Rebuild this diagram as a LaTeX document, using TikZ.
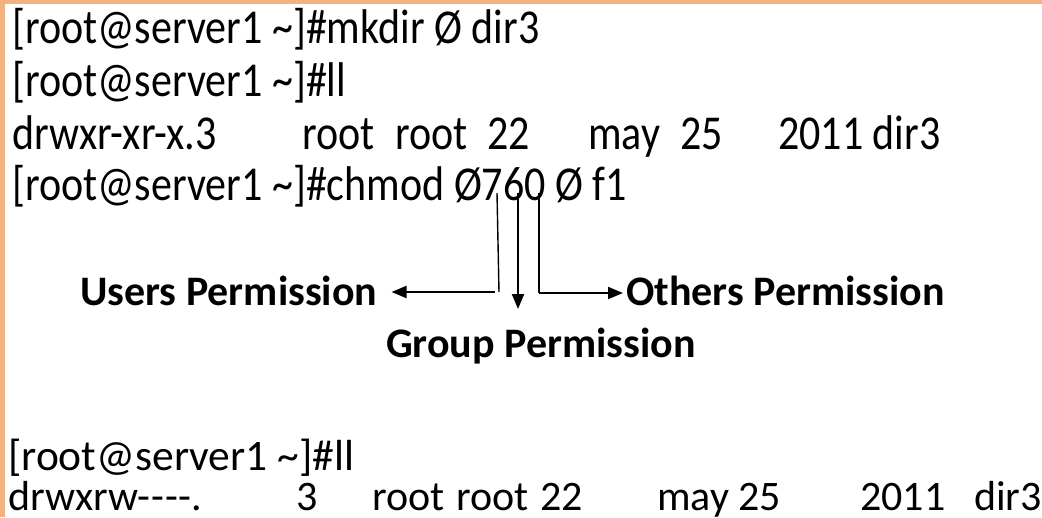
\documentclass[tikz,border=0pt]{standalone}
\usepackage{fontspec}
\setmainfont{Carlito}
\usetikzlibrary{arrows.meta}
\definecolor{frameorange}{RGB}{244,177,131}
\newcommand{\tall}[1]{\scalebox{1}[1.16]{#1}}
\begin{document}
\begin{tikzpicture}[x=1pt,y=-1pt,
  txt/.style={anchor=base west,inner sep=0pt,font=\fontsize{42}{50}\selectfont},
  btxt/.style={anchor=base west,inner sep=0pt,font=\fontsize{42}{50}\selectfont},
  lbl/.style={anchor=base west,inner sep=0pt,font=\fontsize{42}{50}\selectfont\bfseries},
  conn/.style={line width=1.4pt},
  arr/.style={line width=2pt,-{Triangle[length=15pt,width=12pt]}}]
\useasboundingbox (0,0) rectangle (1042,517);
\fill[white] (0,0) rectangle (1042,517);
\fill[frameorange] (0,0) rectangle (1042,4);
\fill[frameorange] (0,0) rectangle (5,517);
% top lines
\node[txt] (l1) at (12,43) {\tall{[root@server1 \textasciitilde]\#mkdir Ø dir3}};
\node[txt] (l2) at (12,96) {\tall{[root@server1 \textasciitilde]\#ll}};
\node[txt] (l3a) at (12,149) {\tall{drwxr-xr-x.3}};
\node[txt] (l3b) at (302,149) {\tall{root}};
\node[txt] (l3c) at (395,149) {\tall{root}};
\node[txt] (l3d) at (487,149) {\tall{22}};
\node[txt] (l3e) at (588,149) {\tall{may}};
\node[txt] (l3f) at (680,149) {\tall{25}};
\node[txt] (l3g) at (778,149) {\tall{2011 dir3}};
\node[txt] (l4) at (12,200) {\tall{[root@server1 \textasciitilde]\#chmod Ø760 Ø f1}};
% labels
\node[lbl] (users) at (80,305) {Users Permission};
\node[lbl] (others) at (626,305) {Others Permission};
\node[lbl] (group) at (386,357) {Group Permission};
% connectors
\coordinate (u1) at (497,193);
\coordinate (u2) at (499,292);
\coordinate (u3) at (495,292);
\coordinate (g1) at (518,193);
\coordinate (gtip) at (518,309);
\coordinate (o1) at (539,193);
\coordinate (o2) at (539,293);
\draw[conn] (u1) -- (u2);
\draw[arr] (u3) -- ([xshift=14pt]users.east |- u3);
\draw[arr] (g1) -- (gtip);
\draw[conn] (o1) -- (o2);
\draw[arr] (o2) -- ([xshift=-3pt]others.west |- o2);
% bottom lines
\node[btxt] (b1) at (8,470) {\fontsize{43.5}{50}\selectfont[root@server1 \textasciitilde]\#ll};
\node[btxt] (b2a) at (8,510) {drwxrw-\kern1pt-\kern1pt-\kern1pt-.};
\node[btxt] (b2b) at (296,510) {3};
\node[btxt] (b2c) at (372,510) {root};
\node[btxt] (b2d) at (456,510) {root};
\node[btxt] (b2e) at (540,510) {22};
\node[btxt] (b2f) at (657,510) {may};
\node[btxt] (b2g) at (738,510) {25};
\node[btxt] (b2h) at (860,510) {2011};
\node[btxt] (b2i) at (974,510) {dir3};
\end{tikzpicture}
\end{document}
